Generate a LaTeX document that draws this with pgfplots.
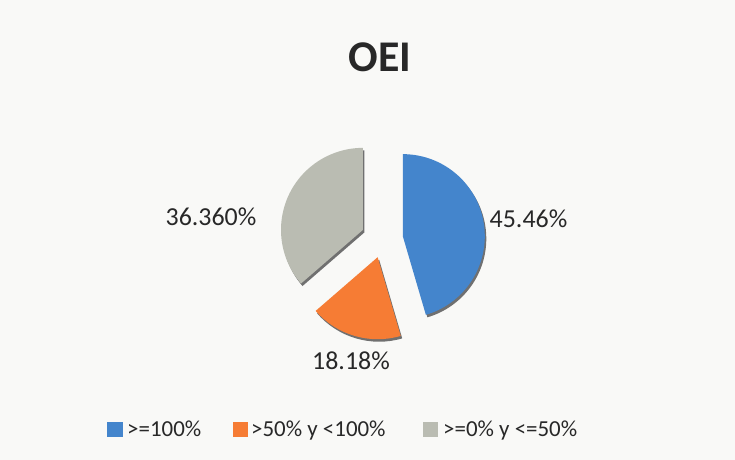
\documentclass[border=0pt]{standalone}
\usepackage{pgfplots}
\pgfplotsset{compat=1.18}
\usepackage{pgfplotstable}
\usepackage{fontspec}
\setmainfont{Carlito}

\definecolor{cblue}{RGB}{68,133,204}
\definecolor{corange}{RGB}{246,124,52}
\definecolor{cgray}{RGB}{186,188,178}
\definecolor{ctext}{RGB}{40,40,40}
\definecolor{cbg}{RGB}{249,249,247}

\pgfplotstableread{
value explode
45.46 20
18.18 19
36.36 22
}\piedata

\pgfplotstablegetelem{0}{value}\of\piedata \let\vA\pgfplotsretval
\pgfplotstablegetelem{1}{value}\of\piedata \let\vB\pgfplotsretval
\pgfplotstablegetelem{2}{value}\of\piedata \let\vC\pgfplotsretval
\pgfplotstablegetelem{0}{explode}\of\piedata \let\eA\pgfplotsretval
\pgfplotstablegetelem{1}{explode}\of\piedata \let\eB\pgfplotsretval
\pgfplotstablegetelem{2}{explode}\of\piedata \let\eC\pgfplotsretval

\pgfmathsetmacro\aA{90}
\pgfmathsetmacro\aB{\aA-\vA*3.6}
\pgfmathsetmacro\aC{\aB-\vB*3.6}
\pgfmathsetmacro\aD{\aC-\vC*3.6}
\pgfmathsetmacro\mA{(\aA+\aB)/2}
\pgfmathsetmacro\mB{(\aB+\aC)/2}
\pgfmathsetmacro\mC{(\aC+\aD)/2}

\newcommand\pieslice[5]{%
  \fill[black!65,opacity=0.85] (axis cs:383,221) ++(#3:#5bp) ++(1.5bp,-2.5bp) -- ++(#1:82bp) arc[start angle=#1,end angle=#2,radius=82bp] -- cycle;
  \fill[#4] (axis cs:383,221) ++(#3:#5bp) -- ++(#1:82bp) arc[start angle=#1,end angle=#2,radius=82bp] -- cycle;
}

\begin{document}
\begin{tikzpicture}
\begin{axis}[x=1bp,y=1bp,xmin=0,xmax=735,ymin=0,ymax=460,
  hide axis,scale only axis,clip=false]
\fill[cbg] (axis cs:0,0) rectangle (axis cs:735,460);
\pieslice{\aA}{\aB}{\mA}{cblue}{\eA}
\pieslice{\aB}{\aC}{\mB}{corange}{\eB}
\pieslice{\aC}{\aD}{\mC}{cgray}{\eC}

\node[anchor=base,inner sep=0pt,text=ctext,font=\bfseries\fontsize{44}{50}\selectfont] at (axis cs:380,388) {OEI};

\node[anchor=base,inner sep=0pt,text=ctext,font=\fontsize{26}{30}\selectfont] at (axis cs:211,234) {36.360\%};
\node[anchor=base,inner sep=0pt,text=ctext,font=\fontsize{26}{30}\selectfont] at (axis cs:528.5,232) {45.46\%};
\node[anchor=base,inner sep=0pt,text=ctext,font=\fontsize{26}{30}\selectfont] at (axis cs:351,90) {18.18\%};

\fill[cblue] (axis cs:107,23) rectangle (axis cs:123,38);
\node[anchor=base west,inner sep=0pt,text=ctext,font=\fontsize{23}{27}\selectfont] at (axis cs:127,23) {>=100\%};
\fill[corange] (axis cs:233,23) rectangle (axis cs:248,38);
\node[anchor=base west,inner sep=0pt,text=ctext,font=\fontsize{23}{27}\selectfont] at (axis cs:251,23) {>50\% y <100\%};
\fill[cgray] (axis cs:423,23) rectangle (axis cs:438,38);
\node[anchor=base west,inner sep=0pt,text=ctext,font=\fontsize{23}{27}\selectfont] at (axis cs:443,23) {>=0\% y <=50\%};
\end{axis}
\end{tikzpicture}
\end{document}
